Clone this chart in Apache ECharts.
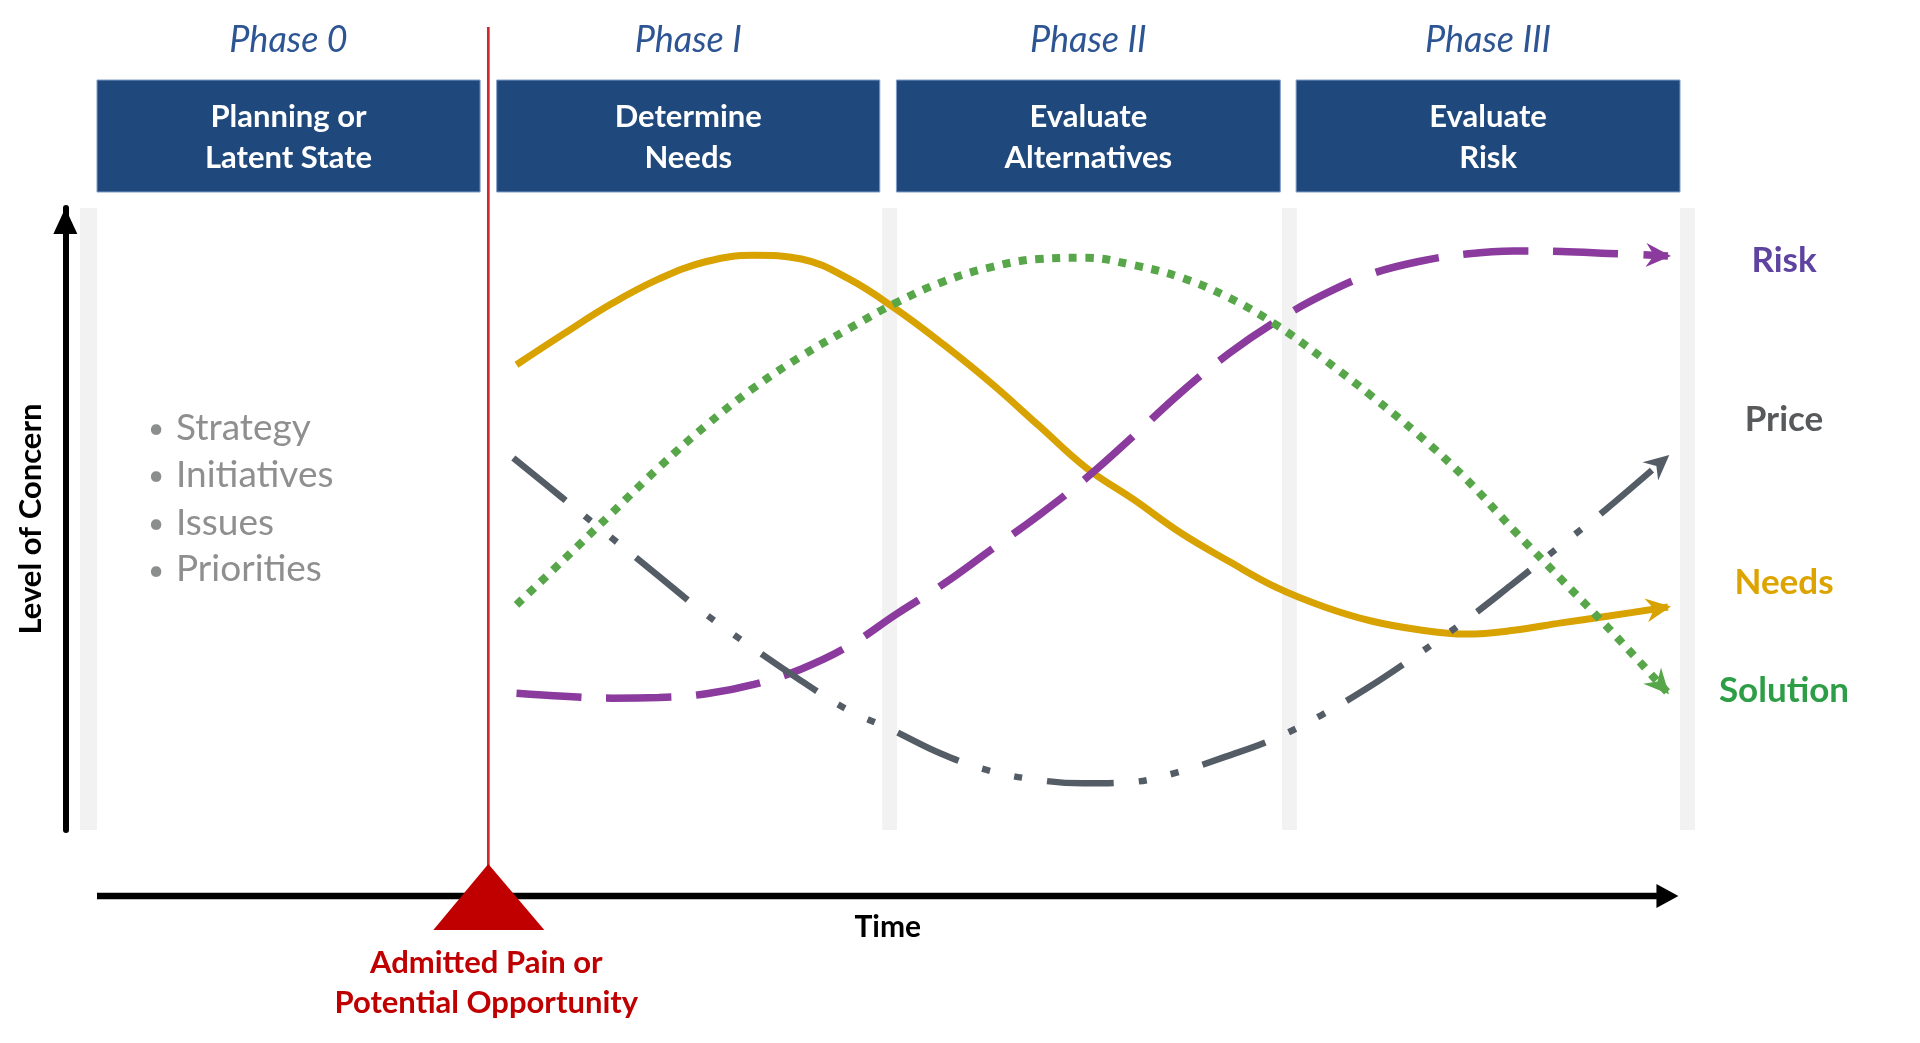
<!DOCTYPE html>
<html>
<head>
<meta charset="utf-8">
<script src="https://cdn.jsdelivr.net/npm/echarts@6/dist/echarts.min.js"></script>
<style>
html,body{margin:0;padding:0;background:#ffffff;}
#chart{width:1920px;height:1043px;}
</style>
</head>
<body>
<div id="chart"></div>
<script>
// ---------- data ----------
const phaseTitles = ['Phase 0', 'Phase I', 'Phase II', 'Phase III'];
const phaseSteps = ['Planning or\nLatent State', 'Determine\nNeeds', 'Evaluate\nAlternatives', 'Evaluate\nRisk'];
const phaseFrom = [0, 25.25, 50.5, 75.75];
const phaseTo = [24.2, 49.45, 74.75, 100];
const bandFrom = [-1.07, 49.6, 74.86, 100];
const bandTo = [0, 50.54, 75.8, 100.95];
const triggerTime = 24.72;
const triggerLabel = 'Admitted Pain or\nPotential Opportunity';
const bulletItems = ['Strategy', 'Initiatives', 'Issues', 'Priorities'];
const xAxisName = 'Time';
const yAxisName = 'Level of Concern';

const seriesNames = ['Needs', 'Risk', 'Price', 'Solution'];

const needsX = [26.5, 29.5, 32.5, 35.5, 38.5, 41.5, 44.5, 47.5, 50.5, 53.5, 56.5, 59.5, 62.5, 65.5, 68.5, 71.5, 74.5, 77.5, 80.5, 83.5, 86.5, 89.5, 92.5, 95.5, 99.24];
const needsY = [74.8, 79.8, 84.6, 88.6, 91.4, 92.4, 91.8, 88.6, 83.7, 78.0, 71.8, 65.0, 58.2, 53.1, 47.7, 43.2, 39.0, 35.9, 33.6, 32.2, 31.5, 32.1, 33.3, 34.4, 35.85];

const riskX = [26.5, 29.5, 32.5, 35.5, 38.5, 41.5, 44.5, 47.5, 50.5, 53.5, 56.5, 59.5, 62.5, 65.5, 68.5, 71.5, 74.5, 77.5, 80.5, 83.5, 86.5, 89.5, 92.5, 95.5, 99.24];
const riskY = [22.0, 21.5, 21.2, 21.3, 21.9, 23.4, 25.9, 29.6, 34.7, 39.6, 45.1, 50.6, 56.6, 63.4, 70.4, 76.6, 81.8, 86.1, 89.4, 91.4, 92.6, 93.1, 93.0, 92.7, 92.3];

const priceX = [26.3, 29.3, 32.3, 35.3, 38.3, 41.3, 44.3, 47.3, 50.3, 53.3, 56.3, 59.3, 62.3, 65.3, 68.3, 71.3, 74.3, 77.3, 80.3, 83.3, 86.3, 89.3, 92.3, 95.3, 99.18];
const priceY = [59.8, 53.6, 47.4, 41.2, 35.0, 29.5, 24.3, 19.5, 16.0, 12.3, 9.6, 8.1, 7.5, 7.7, 9.3, 11.8, 14.6, 18.4, 22.9, 28.0, 33.4, 39.3, 45.4, 51.5, 59.97];

const solutionX = [26.5, 29.5, 32.5, 35.5, 38.5, 41.5, 44.5, 47.5, 50.5, 53.5, 56.5, 59.5, 62.5, 65.5, 68.5, 71.5, 74.5, 77.5, 80.5, 83.5, 86.5, 89.5, 92.5, 95.5, 99.18];
const solutionY = [36.2, 43.5, 50.9, 58.3, 65.1, 71.1, 76.2, 80.6, 84.8, 88.2, 90.5, 91.8, 92.0, 90.8, 88.8, 85.6, 81.2, 75.7, 69.8, 63.5, 56.4, 48.2, 40.3, 32.4, 22.2];

// ---------- styles ----------
const FONT = 'Lato';
const colors = {
  Needs: '#D8A200',
  Risk: '#8B3A9E',
  Price: '#545D66',
  Solution: '#58A64A'
};
const labelColors = {
  Risk: '#5E43A0',
  Price: '#58595B',
  Needs: '#DDA400',
  Solution: '#2E9E46'
};
const lineStyles = {
  Needs: { width: 7, type: 'solid' },
  Risk: { width: 7.5, type: [65, 25] },
  Price: { width: 6.5, type: [67, 25, 8, 25, 8, 25] },
  Solution: { width: 8, type: [8, 8.7] }
};
const seriesXY = {
  Needs: [needsX, needsY],
  Risk: [riskX, riskY],
  Price: [priceX, priceY],
  Solution: [solutionX, solutionY]
};

const chart = echarts.init(document.getElementById('chart'), null, { renderer: 'canvas' });

function pairs(name) {
  const xs = seriesXY[name][0], ys = seriesXY[name][1];
  return xs.map((x, i) => [x, ys[i]]);
}

function buildSeries() {
  const list = [{
    type: 'line',
    name: 'bands',
    data: [],
    z: 1,
    silent: true,
    markArea: {
      silent: true,
      itemStyle: { color: '#F2F2F2' },
      data: bandFrom.map((f, i) => [{ xAxis: f }, { xAxis: bandTo[i] }])
    }
  }];
  seriesNames.forEach((name, si) => {
    list.push({
      type: 'line',
      name: name,
      data: pairs(name),
      smooth: 0.4,
      symbol: 'none',
      z: 3 + si,
      clip: false,
      silent: true,
      lineStyle: {
        color: colors[name],
        width: lineStyles[name].width,
        type: lineStyles[name].type,
        cap: 'butt'
      },
      emphasis: { disabled: true }
    });
  });
  // arrowheads at the end of each curve, oriented along the last segment
  list.push({
    type: 'custom',
    name: 'arrows',
    z: 10,
    silent: true,
    clip: false,
    data: seriesNames.map((n, i) => {
      const p = pairs(n);
      const a = p[p.length - 2], b = p[p.length - 1];
      return [a[0], a[1], b[0], b[1], i];
    }),
    renderItem: function (params, api) {
      const a = api.coord([api.value(0), api.value(1)]);
      const b = api.coord([api.value(2), api.value(3)]);
      const name = seriesNames[api.value(4)];
      let dx = b[0] - a[0], dy = b[1] - a[1];
      const L = Math.hypot(dx, dy) || 1;
      dx /= L; dy /= L;
      const nx = -dy, ny = dx;
      const tip = [b[0] + dx * 3, b[1] + dy * 3];
      const len = 25, half = 12, notch = 17;
      const pts = [
        tip,
        [tip[0] - dx * len + nx * half, tip[1] - dy * len + ny * half],
        [tip[0] - dx * notch, tip[1] - dy * notch],
        [tip[0] - dx * len - nx * half, tip[1] - dy * len - ny * half]
      ];
      return { type: 'polygon', shape: { points: pts }, style: { fill: colors[name] } };
    }
  });
  return list;
}

const baseOption = {
  animation: false,
  backgroundColor: '#ffffff',
  textStyle: { fontFamily: FONT },
  grid: { left: 65.34, width: 1646.32, top: 208, height: 622, containLabel: false },
  xAxis: {
    type: 'value', min: -2, max: 102, show: false
  },
  yAxis: {
    type: 'value', min: 0, max: 100,
    name: yAxisName,
    nameLocation: 'middle',
    nameRotate: 90,
    nameGap: 19,
    nameTextStyle: { fontFamily: FONT, fontWeight: 'bold', fontSize: 31, color: '#000000' },
    axisLine: {
      show: true, onZero: false,
      symbol: ['none', 'triangle'],
      symbolSize: [24, 26],
      symbolOffset: [0, -13],
      lineStyle: { color: '#000000', width: 6 }
    },
    axisTick: { show: false },
    axisLabel: { show: false },
    splitLine: { show: false }
  },
  series: buildSeries()
};

chart.setOption(baseOption);

function px(x, y) { return chart.convertToPixel({ gridIndex: 0 }, [x, y]); }

// ---------- decorations ----------
const graphics = [];
phaseTitles.forEach((t, i) => {
  const x0 = px(phaseFrom[i], 0)[0];
  const x1 = px(phaseTo[i], 0)[0];
  const cx = (x0 + x1) / 2;
  graphics.push({
    type: 'text', x: cx, y: 40.5, silent: true,
    style: { text: t, font: 'italic 36px ' + FONT, fill: '#2E5593', textAlign: 'center', textVerticalAlign: 'middle', align: 'center', verticalAlign: 'middle' }
  });
  graphics.push({
    type: 'rect', silent: true,
    shape: { x: x0, y: 80, width: x1 - x0, height: 112 },
    style: { fill: '#1F487C', stroke: '#7F9CC8', lineWidth: 1 }
  });
  graphics.push({
    type: 'text', x: cx, y: 137.5, silent: true,
    style: { text: phaseSteps[i], font: 'bold 31px ' + FONT, fill: '#FFFFFF', lineHeight: 40.5, textAlign: 'center', textVerticalAlign: 'middle', align: 'center', verticalAlign: 'middle' }
  });
});

// trigger line + triangle
const tx = px(triggerTime, 0)[0];
graphics.push({
  type: 'line', silent: true, z: 10,
  shape: { x1: tx, y1: 27, x2: tx, y2: 866 },
  style: { stroke: '#CC2A30', lineWidth: 2.7 }
});

// time axis
const ax0 = px(0, 0)[0];
const ax1 = px(99.9, 0)[0];
graphics.push({
  type: 'line', silent: true,
  shape: { x1: ax0, y1: 896, x2: ax1 - 18, y2: 896 },
  style: { stroke: '#000000', lineWidth: 6.5 }
});
graphics.push({
  type: 'polygon', silent: true,
  shape: { points: [[ax1 - 22, 884], [ax1, 896], [ax1 - 22, 908]] },
  style: { fill: '#000000' }
});
graphics.push({
  type: 'polygon', silent: true, z: 11,
  shape: { points: [[tx, 864], [tx + 56, 930], [tx - 55, 930]] },
  style: { fill: '#C00000' }
});
graphics.push({
  type: 'text', x: (ax0 + ax1) / 2, y: 927, silent: true,
  style: { text: xAxisName, font: 'bold 30px ' + FONT, fill: '#000000', textAlign: 'center', textVerticalAlign: 'middle', align: 'center', verticalAlign: 'middle' }
});
graphics.push({
  type: 'text', x: tx - 2, y: 982.75, silent: true,
  style: { text: triggerLabel, font: 'bold 31px ' + FONT, fill: '#C00000', lineHeight: 40.5, textAlign: 'center', textVerticalAlign: 'middle', align: 'center', verticalAlign: 'middle' }
});

// bullets
const bulletY = [428.4, 475, 523, 569.5];
bulletItems.forEach((b, i) => {
  graphics.push({
    type: 'text', x: 156, y: bulletY[i] + 1, silent: true,
    style: { text: '\u2022', font: '28px ' + FONT, fill: '#8A8E8C', textAlign: 'center', textVerticalAlign: 'middle', align: 'center', verticalAlign: 'middle' }
  });
  graphics.push({
    type: 'text', x: 176, y: bulletY[i], silent: true,
    style: { text: b, font: '37px ' + FONT, fill: '#8F8F8F', textAlign: 'left', textVerticalAlign: 'middle', align: 'left', verticalAlign: 'middle' }
  });
});

// series labels on the right
const labelOrder = ['Risk', 'Price', 'Needs', 'Solution'];
const labelY = [261, 420, 583, 691];
labelOrder.forEach((n, i) => {
  graphics.push({
    type: 'text', x: 1784, y: labelY[i], silent: true,
    style: { text: n, font: 'bold 35px ' + FONT, fill: labelColors[n], textAlign: 'center', textVerticalAlign: 'middle', align: 'center', verticalAlign: 'middle' }
  });
});

chart.setOption({ graphic: { elements: graphics } });
</script>
</body>
</html>
